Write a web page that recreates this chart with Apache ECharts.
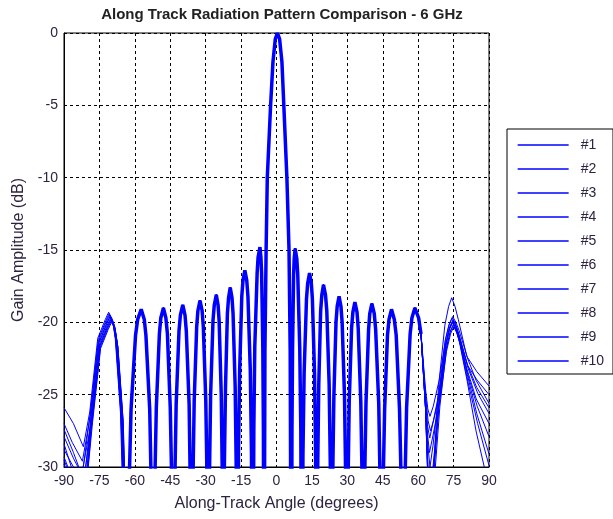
<!DOCTYPE html>
<html>
<head>
<meta charset="utf-8">
<script src="https://cdn.jsdelivr.net/npm/echarts@6/dist/echarts.min.js"></script>
<style>html,body{margin:0;padding:0;background:#fff}#c{width:613px;height:519px}</style>
</head>
<body>
<div id="c"></div>
<script>
const seriesNames = ['#1','#2','#3','#4','#5','#6','#7','#8','#9','#10'];

// shared central pattern (angle deg, gain dB)
const core = [
 [-62.5,-31.7],[-61.6,-26.0],[-59.7,-20.9],[-58.8,-19.8],[-57.3,-19.1],[-56.0,-19.8],[-55.3,-20.9],[-53.7,-26.0],[-53.0,-31.7],[-52.2,-45],
 [-51.6,-31.6],[-50.9,-25.9],[-49.6,-20.8],[-49.0,-19.7],[-47.9,-19.0],[-46.85,-19.7],[-46.2,-20.8],[-45.0,-25.9],[-44.3,-31.6],[-43.7,-45],
 [-43.1,-31.4],[-42.5,-25.7],[-41.3,-20.6],[-40.7,-19.5],[-39.7,-18.8],[-38.75,-19.5],[-38.2,-20.6],[-37.0,-25.7],[-36.5,-31.4],[-35.9,-45],
 [-35.4,-31.1],[-34.85,-25.4],[-33.8,-20.3],[-33.3,-19.2],[-32.4,-18.5],[-31.5,-19.2],[-31.0,-20.3],[-29.95,-25.4],[-29.4,-31.1],[-28.9,-45],
 [-28.4,-30.7],[-27.9,-25.0],[-26.9,-19.9],[-26.35,-18.8],[-25.5,-18.1],[-24.75,-18.8],[-24.3,-19.9],[-23.4,-25.0],[-22.95,-30.7],[-22.5,-45],
 [-22.1,-30.2],[-21.6,-24.5],[-20.8,-19.4],[-20.3,-18.3],[-19.6,-17.6],[-18.85,-18.3],[-18.4,-19.4],[-17.5,-24.5],[-17.05,-30.2],[-16.6,-45],
 [-16.1,-29.0],[-15.6,-23.3],[-14.7,-18.2],[-14.2,-17.1],[-13.4,-16.4],[-12.6,-17.1],[-12.1,-18.2],[-11.1,-23.3],[-10.6,-29.0],[-10.1,-45],
 [-9.6,-27.4],[-9.2,-21.7],[-8.2,-16.6],[-7.8,-15.5],[-7.0,-14.8],[-6.6,-15.5],[-6.3,-16.6],[-5.8,-21.7],[-5.55,-27.4],[-5.3,-45],
 [-4.9,-22],[-4.4,-15],[-3.9,-10],[-2.5,-5],[-1.5,-2],[-0.5,-0.4],[0.4,0],[1.3,-0.4],[2.3,-2],[3.1,-5],[4.4,-10],[5.3,-15],[5.8,-22],[6.3,-45],
 [6.55,-27.5],[6.8,-21.8],[7.25,-16.7],[7.5,-15.6],[7.9,-14.9],[8.6,-15.6],[9.0,-16.7],[9.85,-21.8],[10.3,-27.5],[10.7,-45],
 [11.2,-29.2],[11.7,-23.5],[12.7,-18.4],[13.2,-17.3],[14.0,-16.6],[14.75,-17.3],[15.2,-18.4],[16.1,-23.5],[16.55,-29.2],[17.0,-45],
 [17.45,-30.0],[17.9,-24.3],[18.7,-19.2],[19.2,-18.1],[19.9,-17.4],[20.75,-18.1],[21.3,-19.2],[22.3,-24.3],[22.8,-30.0],[23.3,-45],
 [23.8,-30.8],[24.3,-25.1],[25.2,-20.0],[25.7,-18.9],[26.5,-18.2],[27.3,-18.9],[27.8,-20.0],[28.8,-25.1],[29.3,-30.8],[29.8,-45],
 [30.3,-31.2],[30.8,-25.5],[31.8,-20.4],[32.35,-19.3],[33.2,-18.6],[34.1,-19.3],[34.6,-20.4],[35.7,-25.5],[36.3,-31.2],[36.8,-45],
 [37.3,-31.3],[37.9,-25.6],[39.0,-20.5],[39.5,-19.4],[40.4,-18.7],[41.4,-19.4],[42.0,-20.5],[43.3,-25.6],[43.9,-31.3],[44.5,-45],
 [45.1,-31.7],[45.8,-26.0],[47.0,-20.9],[47.65,-19.8],[48.7,-19.1],[49.9,-19.8],[50.7,-20.9],[52.1,-26.0],[52.9,-31.7],[53.6,-45],
 [54.35,-31.6],[55.1,-25.9],[56.6,-20.8],[57.35,-19.7],[58.6,-19.0],[60.2,-19.7],[61.2,-20.8]
];

// per-pattern outer parts, left side (-90 .. -63)
const leftTails = [
 [[-90,-25.9],[-86,-27.0],[-81.8,-28.6],[-79.1,-26.2],[-75.7,-21.1],[-72.5,-19.8],[-71.1,-19.3],[-69.5,-19.8],[-68.3,-21.1],[-66.1,-26.2],[-65.1,-31.9],[-64.0,-45]],
 [[-90,-27.0],[-86.5,-28.3],[-82.2,-29.6],[-78.8,-26.4],[-75.4,-21.3],[-72.2,-20.0],[-70.8,-19.5],[-69.2,-20.0],[-68.0,-21.3],[-65.8,-26.4],[-64.8,-32.1],[-63.7,-45]],
 [[-90,-27.4],[-86,-29.0],[-81.5,-31.0],[-78.5,-26.5],[-75.1,-21.4],[-71.9,-20.1],[-70.5,-19.6],[-68.9,-20.1],[-67.7,-21.4],[-65.5,-26.5],[-64.5,-32.2],[-63.4,-45]],
 [[-90,-27.9],[-86,-29.4],[-82.5,-30.5],[-78.2,-26.7],[-74.8,-21.6],[-71.6,-20.3],[-70.2,-19.8],[-68.6,-20.3],[-67.4,-21.6],[-65.2,-26.7],[-64.2,-32.4],[-63.1,-45]],
 [[-90,-28.4],[-86.5,-30.2],[-81.5,-33.0],[-77.9,-26.9],[-74.5,-21.8],[-71.3,-20.5],[-69.9,-20.0],[-68.3,-20.5],[-67.1,-21.8],[-64.9,-26.9],[-63.9,-32.6],[-62.8,-45]],
 [[-90,-28.8],[-86,-30.0],[-83.0,-31.5],[-78.9,-26.3],[-75.5,-21.2],[-72.3,-19.9],[-70.9,-19.4],[-69.3,-19.9],[-68.1,-21.2],[-65.9,-26.3],[-64.9,-32.0],[-63.8,-45]],
 [[-90,-29.3],[-86,-31.0],[-82.0,-34.0],[-78.3,-26.6],[-74.9,-21.5],[-71.7,-20.2],[-70.3,-19.7],[-68.7,-20.2],[-67.5,-21.5],[-65.3,-26.6],[-64.3,-32.3],[-63.2,-45]],
 [[-90,-29.5],[-87,-30.8],[-83.5,-33.0],[-78.0,-26.8],[-74.6,-21.7],[-71.4,-20.4],[-70.0,-19.9],[-68.4,-20.4],[-67.2,-21.7],[-65.0,-26.8],[-64.0,-32.5],[-62.9,-45]],
 [[-90,-29.8],[-86,-31.5],[-82.5,-35.0],[-78.6,-26.5],[-75.2,-21.4],[-72.0,-20.1],[-70.6,-19.6],[-69.0,-20.1],[-67.8,-21.4],[-65.6,-26.5],[-64.6,-32.2],[-63.5,-45]],
 [[-90,-31.0],[-86,-33.0],[-83.0,-36.0],[-78.1,-26.7],[-74.7,-21.6],[-71.5,-20.3],[-70.1,-19.8],[-68.5,-20.3],[-67.3,-21.6],[-65.1,-26.7],[-64.1,-32.4],[-63.0,-45]]
];

// per-pattern outer parts, right side (63 .. 90)
const rightTails = [
 [[63.1,-25.9],[64.2,-31.6],[65.2,-45],[66.2,-31.0],[68.6,-24.5],[71.3,-20.2],[72.9,-18.9],[74.2,-18.3],[75.6,-18.9],[77.0,-19.8],[80.5,-22.3],[84.5,-24.0],[90,-25.6]],
 [[63.1,-24.6],[64.1,-26.0],[65.0,-26.5],[66.4,-25.8],[68.9,-24.0],[71.6,-21.2],[73.2,-20.1],[74.6,-19.6],[76.0,-20.0],[77.4,-20.6],[80.8,-22.4],[84.8,-23.4],[90,-24.4]],
 [[63.1,-25.9],[64.3,-31.0],[65.3,-40],[66.4,-30.5],[69.0,-25.2],[71.8,-21.5],[73.4,-20.3],[74.8,-19.8],[76.2,-20.3],[77.6,-21.0],[81.0,-23.0],[85.0,-24.0],[90,-25.0]],
 [[63.1,-25.3],[64.0,-27.2],[64.9,-28.0],[66.2,-27.0],[68.9,-24.8],[71.6,-21.6],[73.1,-20.5],[74.5,-20.0],[75.9,-20.4],[77.3,-21.0],[80.8,-22.9],[84.8,-24.5],[90,-25.9]],
 [[63.1,-25.9],[64.4,-32.0],[65.5,-45],[66.6,-31.5],[69.2,-25.8],[72.0,-21.8],[73.6,-20.6],[75.0,-20.1],[76.4,-20.5],[77.8,-21.2],[81.2,-23.2],[85.2,-24.9],[90,-26.3]],
 [[63.1,-25.6],[64.1,-28.5],[65.0,-30.0],[66.3,-28.5],[68.8,-24.8],[71.5,-21.2],[73.0,-20.2],[74.4,-19.7],[75.8,-20.1],[77.2,-20.9],[80.6,-23.2],[84.6,-25.3],[90,-27.0]],
 [[63.1,-25.0],[64.2,-26.8],[65.2,-27.5],[66.5,-26.8],[69.1,-25.0],[71.9,-21.8],[73.5,-20.7],[74.9,-20.2],[76.3,-20.6],[77.7,-21.4],[81.0,-23.6],[85.0,-25.8],[90,-27.9]],
 [[63.1,-25.9],[64.3,-31.5],[65.4,-38],[66.5,-30.8],[69.0,-25.3],[71.7,-21.5],[73.3,-20.4],[74.7,-19.9],[76.1,-20.3],[77.5,-21.1],[80.8,-23.6],[84.8,-26.3],[90,-29.1]],
 [[63.1,-25.4],[64.0,-27.8],[64.8,-29.0],[66.3,-27.8],[69.2,-25.4],[72.0,-22.0],[73.7,-20.8],[75.1,-20.3],[76.5,-20.8],[77.9,-21.6],[81.2,-24.2],[85.2,-27.0],[90,-29.9]],
 [[63.1,-25.9],[64.2,-30.0],[65.1,-32.0],[66.4,-29.8],[69.0,-25.3],[71.7,-21.6],[73.2,-20.5],[74.6,-20.0],[76.0,-20.5],[77.4,-21.3],[80.7,-24.0],[84.5,-27.5],[88.0,-30.0],[90,-31.5]]
];

const BLUE = '#0000ff';
const FONT = 'Liberation Sans, Arial, sans-serif';
const TXT = '#2d2340';

const series = seriesNames.map((n, i) => ({
  name: n, type: 'line', symbol: 'none', clip: true,
  lineStyle: { color: BLUE, width: 1 }, itemStyle: { color: BLUE },
  data: leftTails[i].concat(core, rightTails[i]),
  animation: false
}));
series.push({
  name: 'band', type: 'line', symbol: 'none', clip: true, silent: true,
  lineStyle: { color: BLUE, width: 3.5 }, data: core, animation: false
});

const chart = echarts.init(document.getElementById('c'), null, { renderer: 'canvas' });
chart.setOption({
  backgroundColor: '#fff',
  animation: false,
  title: {
    text: 'Along Track Radiation Pattern Comparison - 6 GHz',
    left: 277, top: 2, textAlign: 'center',
    textStyle: { fontFamily: FONT, fontSize: 15, fontWeight: 'bold', color: '#222' }
  },
  grid: { left: 64, right: 124, top: 33, bottom: 52, show: true, borderColor: '#000', borderWidth: 1, backgroundColor: '#fff', outerBoundsMode: 'none', containLabel: false },
  legend: {
    data: seriesNames, orient: 'vertical', left: 507, top: 129,
    itemWidth: 51, itemHeight: 14, itemGap: 10,
    padding: [9, 9, 6, 10],
    borderColor: '#000', borderWidth: 1, backgroundColor: '#fff', borderRadius: 0,
    textStyle: { fontFamily: FONT, fontSize: 14, color: TXT, padding: [0, 0, 0, 7] },
    itemStyle: { opacity: 0 },
    lineStyle: { width: 1.3, color: BLUE }
  },
  xAxis: {
    type: 'value', min: -90, max: 90, interval: 15,
    name: 'Along-Track Angle (degrees)', nameLocation: 'middle', nameGap: 29,
    nameTextStyle: { fontFamily: FONT, fontSize: 16, color: TXT },
    axisLine: { show: true, onZero: false, lineStyle: { color: '#000' } },
    axisTick: { show: false },
    axisLabel: { fontFamily: FONT, fontSize: 14, color: TXT, margin: 7 },
    splitLine: { show: true, lineStyle: { color: '#000', type: [3, 3], width: 1 } }
  },
  yAxis: {
    type: 'value', min: -30, max: 0, interval: 5,
    name: 'Gain Amplitude (dB)', nameLocation: 'middle', nameGap: 37,
    nameTextStyle: { fontFamily: FONT, fontSize: 16, color: TXT },
    axisLine: { show: true, onZero: false, lineStyle: { color: '#000' } },
    axisTick: { show: false },
    axisLabel: { fontFamily: FONT, fontSize: 14, color: TXT, margin: 6 },
    splitLine: { show: true, lineStyle: { color: '#000', type: [3, 3], width: 1 } }
  },
  series: series
});
</script>
</body>
</html>
